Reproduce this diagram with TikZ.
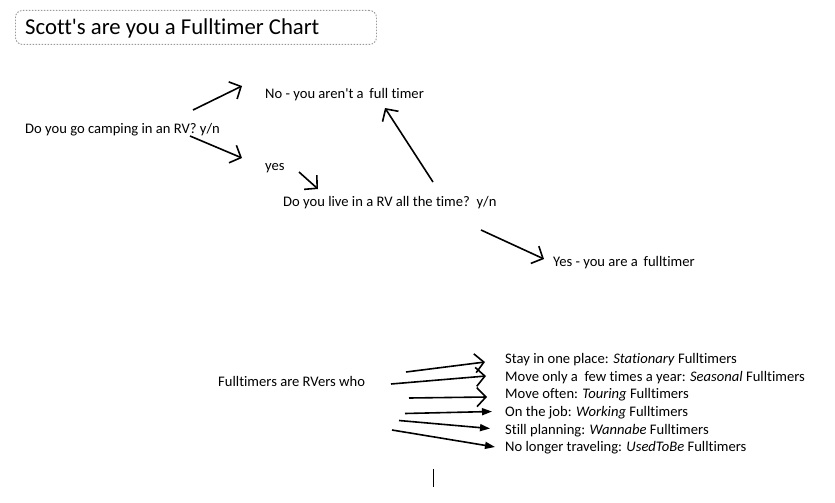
\documentclass[tikz,border=0pt]{standalone}
\usepackage{fontspec}
\setmainfont{Carlito}[Ligatures={TeXOff,CommonOff}]
\usetikzlibrary{arrows.meta}
\tikzset{
  txt/.style={anchor=base west,inner sep=0pt,font=\fontsize{14.6}{17}\selectfont},
  openarr/.style={line width=1.6pt,-{Straight Barb[length=9pt,width=19pt,line width=1.6pt]}},
  fillarr/.style={line width=1.6pt,-{Triangle[length=10pt,width=7pt]}},
  titlebox/.style={draw=gray!80,line width=0.9pt,dash pattern=on 1.6pt off 1.4pt,rounded corners=7pt},
}
\begin{document}
\begin{tikzpicture}[x=1pt,y=-1pt]
\useasboundingbox (0,0) rectangle (835,503);
\node[titlebox,minimum width=361pt,minimum height=34pt,anchor=north west] (tb) at (15,10) {};
\node[anchor=base west,inner sep=0pt,font=\fontsize{22.7}{26}\selectfont] (title) at (25,35) {Scott's are you a Fulltimer Chart};

\node[txt] (q1) at (25,133) {Do you go camping in an RV? y/n};
\node[txt] (no) at (265,99) {No - you aren't a\, full timer};
\node[txt] (yes) at (265,170) {yes};
\node[txt] (q2) at (283,206.5) {Do you live in a RV all the time?\ \ y/n};
\node[txt] (yf) at (553,266.5) {Yes - you are a\, fulltimer};

\coordinate (a1s) at (193,110); \coordinate (a1e) at (242,86);
\coordinate (a2s) at (190,136); \coordinate (a2e) at (242,158);
\coordinate (a3s) at (299,172); \coordinate (a3e) at (318,189);
\coordinate (a4s) at (433,182); \coordinate (a4e) at (385,108);
\coordinate (a5s) at (481,230); \coordinate (a5e) at (544,259);
\draw[openarr] (a1s) -- (a1e);
\draw[openarr] (a2s) -- (a2e);
\draw[openarr] (a3s) -- (a3e);
\draw[openarr] (a4s) -- (a4e);
\draw[openarr] (a5s) -- (a5e);

\node[txt] (ft) at (218,386.5) {Fulltimers are RVers who};
\node[txt] (t1) at (505,363.3) {Stay in one place: \textit{Stationary} Fulltimers};
\node[txt] (t2) at (505,381) {Move only a\ \ few times a year: \textit{Seasonal} Fulltimers};
\node[txt] (t3) at (505,398.7) {Move often: \textit{Touring} Fulltimers};
\node[txt] (t4) at (505,416.4) {On the job: \textit{Working} Fulltimers};
\node[txt] (t5) at (505,434.1) {Still planning: \textit{Wannabe} Fulltimers};
\node[txt] (t6) at (505,451.8) {No longer traveling: \textit{UsedToBe} Fulltimers};

\coordinate (b1s) at (406,372); \coordinate (b1e) at (485,362);
\coordinate (b2s) at (391,384); \coordinate (b2e) at (486,376);
\coordinate (b3s) at (409,398); \coordinate (b3e) at (487,397);
\coordinate (b4s) at (405,413.5); \coordinate (b4e) at (492,411.5);
\coordinate (b5s) at (399,420.5); \coordinate (b5e) at (490,428.5);
\coordinate (b6s) at (392,430); \coordinate (b6e) at (495,447);
\draw[openarr] (b1s) -- (b1e);
\draw[openarr] (b2s) -- (b2e);
\draw[openarr] (b3s) -- (b3e);
\draw[fillarr] (b4s) -- (b4e);
\draw[fillarr] (b5s) -- (b5e);
\draw[fillarr] (b6s) -- (b6e);

\coordinate (c1) at (433.5,469); \coordinate (c2) at (433.5,487);
\draw[line width=1pt] (c1) -- (c2);
\end{tikzpicture}
\end{document}
